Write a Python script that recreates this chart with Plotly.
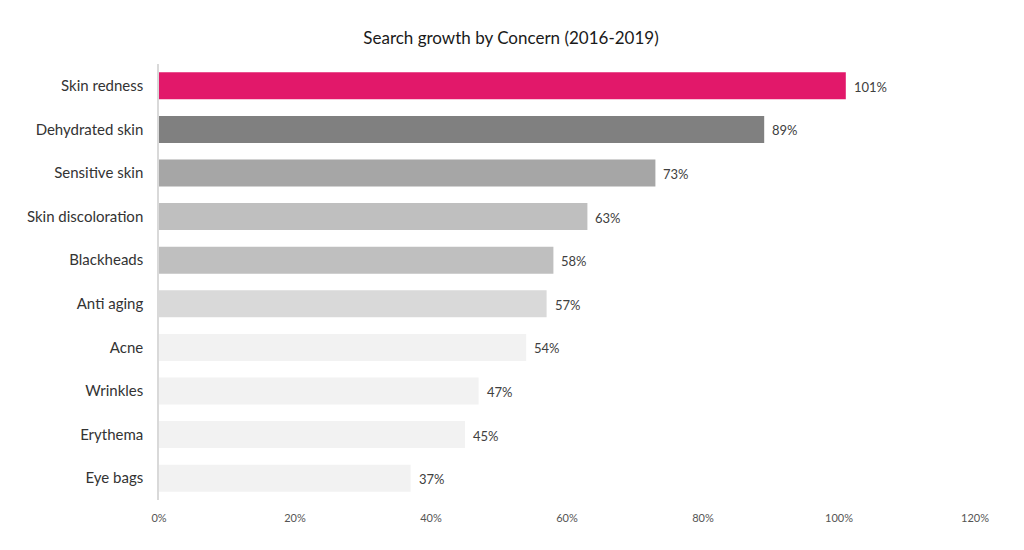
import plotly.graph_objects as go

categories = ["Skin redness", "Dehydrated skin", "Sensitive skin", "Skin discoloration",
              "Blackheads", "Anti aging", "Acne", "Wrinkles", "Erythema", "Eye bags"]
values = [101, 89, 73, 63, 58, 57, 54, 47, 45, 37]
colors = ["#E2186A", "#808080", "#A6A6A6", "#BFBFBF", "#BFBFBF",
          "#D9D9D9", "#F2F2F2", "#F2F2F2", "#F2F2F2", "#F2F2F2"]
tick_vals = [0, 20, 40, 60, 80, 100, 120]
tick_text = ["0%", "20%", "40%", "60%", "80%", "100%", "120%"]

font_family = "Lato, Open Sans, sans-serif"

fig = go.Figure(go.Bar(
    x=values, y=categories, orientation="h",
    marker=dict(color=colors, line=dict(width=0)),
    width=0.62, hoverinfo="skip",
))

for v, c in zip(values, categories):
    fig.add_annotation(x=v, y=c, text=f"{v}%", showarrow=False,
                       xanchor="left", yanchor="middle", xshift=6, yshift=-1,
                       font=dict(size=13, color="#404040", family=font_family))

fig.update_layout(
    width=1024, height=550,
    paper_bgcolor="white", plot_bgcolor="white",
    margin=dict(l=151, r=57, t=56, b=58, autoexpand=False),
    title=dict(text="Search growth by Concern (2016-2019)", x=503 / 1024, xanchor="center",
               xref="container",
               y=1 - 30 / 550, yanchor="middle",
               font=dict(size=17, color="#1a1a1a", family=font_family)),
    font=dict(family=font_family, color="#333333"),
    showlegend=False,
)
fig.update_xaxes(range=[0, 120], tickvals=tick_vals, ticktext=tick_text, automargin=False,
                 showgrid=False, zeroline=False, showline=False, ticklabelstandoff=10,
                 tickfont=dict(size=11, color="#555555"), ticks="", ticklen=0)
fig.update_yaxes(categoryorder="array", categoryarray=categories[::-1], automargin=False,
                 showgrid=False, zeroline=False, showline=True, linecolor="#D9D9D9",
                 linewidth=1.5, ticks="", ticklabelstandoff=11,
                 tickfont=dict(size=15, color="#333333"))

fig.write_html("out.html")
